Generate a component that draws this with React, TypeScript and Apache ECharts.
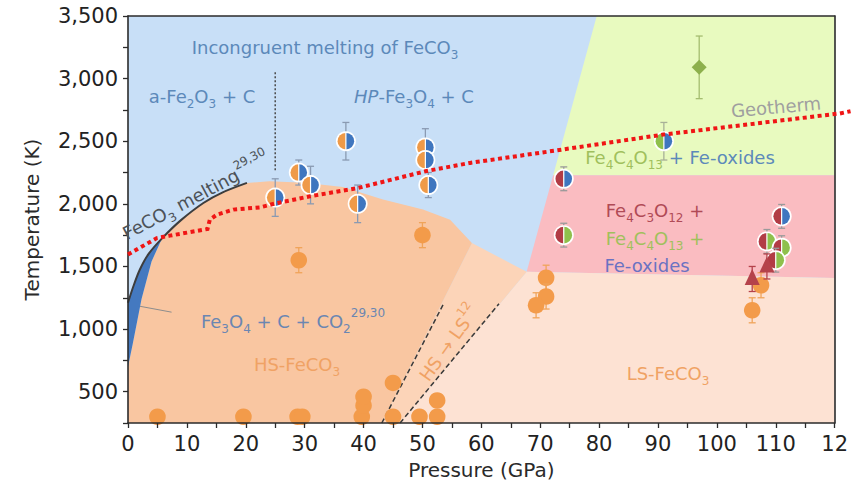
import React, { useEffect, useRef } from 'react';
import * as echarts from 'echarts';

const F = 'DejaVu Sans';

// ---- phase regions (P in GPa, T in K)
const blueRegion = [[0, 250], [120, 250], [120, 3500], [0, 3500]];
const greenRegion = [[79.6, 3500], [120, 3500], [120, 2228], [72.2, 2228]];
const pinkRegion = [[72.2, 2228], [120, 2228], [120, 1408], [67.7, 1458]];
const lsRegion = [[46.2, 250], [120, 250], [120, 1408], [67.7, 1458]];
const transitionRegion = [[43.1, 250], [46.2, 250], [67.7, 1458], [58.4, 1687]];
const meltingCurve = [[0, 1210], [0.9, 1340], [2, 1474], [3.5, 1600], [5.9, 1730], [9, 1870], [12.8, 2007], [16, 2090], [20.2, 2167]];
const sliverInner = [[5.5, 1695], [4.0, 1540], [2.3, 1240], [0.8, 880], [0, 700]];
const hsDome = [[24, 2180], [30, 2168], [36.5, 2135], [43.3, 2034], [50.1, 1954], [54.7, 1874], [58.4, 1687], [43.1, 250], [0, 250]];

// ---- lines
const geotherm = [[0, 1595], [4.9, 1727], [7.1, 1746], [13.5, 1799], [13.9, 1874], [15.1, 1914], [17.9, 1954], [22.4, 1972], [25.2, 2005], [30.9, 2060], [39.1, 2127], [50.5, 2260], [58.1, 2327], [69.9, 2407], [90.9, 2553], [120.9, 2722], [122.7, 2740]];
const spinLeft = [[43.1, 250], [53.5, 1194]];
const spinRight = [[46.2, 250], [63, 1202]];
const dividerLine = [[25, 3050], [25, 2260]];
const pointerLine = [[2.04, 1182], [7.4, 1135]];

// ---- measurements [P, T, error]
const orangeBlue = [[25, 2050, 150], [29, 2250, 100], [31, 2150, 150], [37, 2500, 150], [39, 2000, 150], [50.5, 2450, 150], [50.5, 2350, 0], [51, 2150, 100]];
const greenBlue = [[91, 2500, 150]];
const redBlue = [[74, 2200, 95], [111, 1900, 95]];
const redGreen = [[74, 1750, 95], [108.5, 1700, 95], [111, 1650, 95], [110, 1550, 95]];
const triangles = [[106, 1400, 100], [108.5, 1500, 100]];
const diamonds = [[97, 3090, 250]];
const orangeDots = [[29, 1550, 100], [50, 1750, 100], [71, 1410, 100], [71, 1260, 100], [69.3, 1190, 100], [107.5, 1350, 100], [106, 1150, 100],
  [5, 300, 0], [19.6, 300, 0], [28.8, 300, 0], [29.6, 300, 0], [39.7, 300, 0], [40, 390, 0], [40, 460, 0], [45, 570, 0], [45, 300, 0], [49.5, 300, 0], [52.5, 300, 0], [52.5, 430, 0]];

const C = {
  orange: '#ef9a48', blue: '#3f76bf', red: '#b23c45', green: '#8fc04c',
};

function polygonSeries(points: number[][], color: string, z: number) {
  return {
    type: 'custom', coordinateSystem: 'cartesian2d', silent: true, z,
    data: [[0, 3500]],
    renderItem: (_p: any, api: any) => ({
      type: 'polygon',
      shape: { points: points.map((p) => api.coord(p)) },
      style: { fill: color },
    }),
  };
}

function polylineSeries(points: number[][], color: string, width: number, dash: number[], z: number) {
  return {
    type: 'custom', coordinateSystem: 'cartesian2d', silent: true, z, clip: false,
    data: [[0, 3500]],
    renderItem: (_p: any, api: any) => ({
      type: 'polyline',
      shape: { points: points.map((p) => api.coord(p)) },
      style: { stroke: color, lineWidth: width, lineDash: dash, fill: null },
    }),
  };
}

function errorBar(api: any, c: number[], P: number, T: number, e: number, color: string) {
  if (!e) return [];
  const top = api.coord([P, T + e]);
  const bot = api.coord([P, T - e]);
  const s = { stroke: color, lineWidth: 1.3 };
  return [
    { type: 'line', shape: { x1: c[0], y1: top[1], x2: c[0], y2: bot[1] }, style: s },
    { type: 'line', shape: { x1: c[0] - 3.5, y1: top[1], x2: c[0] + 3.5, y2: top[1] }, style: s },
    { type: 'line', shape: { x1: c[0] - 3.5, y1: bot[1], x2: c[0] + 3.5, y2: bot[1] }, style: s },
  ];
}

function markerSeries(data: number[][], kind: string, a: string, b: string, barColor: string, z: number) {
  return {
    type: 'custom', coordinateSystem: 'cartesian2d', silent: true, z,
    data,
    renderItem: (_p: any, api: any) => {
      const P = api.value(0), T = api.value(1), e = api.value(2);
      const c = api.coord([P, T]);
      const ch: any[] = errorBar(api, c, P, T, e, barColor);
      if (kind === 'half') {
        ch.push({ type: 'circle', shape: { cx: c[0], cy: c[1], r: 10 }, style: { fill: '#ffffff' } });
        ch.push({ type: 'sector', shape: { cx: c[0], cy: c[1], r0: 0, r: 8.3, startAngle: Math.PI / 2, endAngle: Math.PI * 1.5, clockwise: true }, style: { fill: a } });
        ch.push({ type: 'sector', shape: { cx: c[0], cy: c[1], r0: 0, r: 8.3, startAngle: -Math.PI / 2, endAngle: Math.PI / 2, clockwise: true }, style: { fill: b } });
        ch.push({ type: 'line', shape: { x1: c[0], y1: c[1] - 9, x2: c[0], y2: c[1] + 9 }, style: { stroke: '#ffffff', lineWidth: 1.2 } });
      } else if (kind === 'dot') {
        ch.push({ type: 'circle', shape: { cx: c[0], cy: c[1], r: 8.3 }, style: { fill: a } });
      } else if (kind === 'tri') {
        ch.push({ type: 'polygon', shape: { points: [[c[0], c[1] - 10], [c[0] - 7.5, c[1] + 6], [c[0] + 7.5, c[1] + 6]] }, style: { fill: a } });
      } else if (kind === 'dia') {
        ch.push({ type: 'polygon', shape: { points: [[c[0], c[1] - 7.5], [c[0] + 7.5, c[1]], [c[0], c[1] + 7.5], [c[0] - 7.5, c[1]]] }, style: { fill: a } });
      }
      return { type: 'group', children: ch };
    },
  };
}

function lineSeries(data: number[][], color: string, width: number, type: any, z: number, extra: any = {}) {
  return {
    type: 'line', data, showSymbol: false, silent: true, z,
    lineStyle: { color, width, type }, ...extra,
  };
}

function richFor(prefix: string, color: string, size: number) {
  const r: any = {};
  r[prefix] = { fill: color, color, fontFamily: F, fontSize: size, lineHeight: 28 };
  r[prefix + 'i'] = { fill: color, color, fontFamily: F, fontSize: size, fontStyle: 'italic', lineHeight: 28 };
  r[prefix + 's'] = { fill: color, color, fontFamily: F, fontSize: Math.round(size * 0.66), verticalAlign: 'bottom', lineHeight: 12 };
  r[prefix + 'u'] = { fill: color, color, fontFamily: F, fontSize: Math.round(size * 0.66), verticalAlign: 'top', lineHeight: 11 };
  return r;
}

const BLUE_T = '#5c89ba';
const GREEN_T = '#a0c05c';
const RED_T = '#b04a56';
const PURP_T = '#6a72c2';
const ORANGE_T = '#f0a264';
const GRAY_T = '#4d5258';

const rich = {
  ...richFor('b', BLUE_T, 18),
  ...richFor('g', GREEN_T, 18),
  ...richFor('r', RED_T, 18),
  ...richFor('p', PURP_T, 18),
  ...richFor('o', ORANGE_T, 18),
  ...richFor('d', GRAY_T, 18),
  ...richFor('k', '#9f9f9f', 18),
  ...richFor('f', '#6b86b2', 18),
};

function label(text: string, x: number, y: number, rotation = 0) {
  return {
    type: 'text', x, y, rotation, z: 50, silent: true,
    style: { text, rich, align: 'center', verticalAlign: 'middle', fontFamily: F, fontSize: 18, lineHeight: 28 },
  };
}

export default function App() {
  const ref = useRef<HTMLDivElement>(null);
  useEffect(() => {
    if (!ref.current) return;
    const chart = echarts.init(ref.current, undefined, { renderer: 'svg' });
    const axisLine = { show: true, onZero: false, lineStyle: { color: '#2b2b2b', width: 1.6 } };
    const hsRegion = [[0, 700], ...sliverInner.slice().reverse().slice(1), ...meltingCurve.slice(4), ...hsDome];
    const sliverRegion = [...meltingCurve.slice(0, 5), ...sliverInner];
    const option: any = {
      animation: false,
      grid: { left: 128, right: 16, top: 16, bottom: 70 },
      xAxis: [
        {
          type: 'value', min: 0, max: 120, interval: 5, position: 'bottom', z: 10,
          name: 'Pressure (GPa)', nameLocation: 'middle', nameGap: 37,
          nameTextStyle: { fontFamily: F, fontSize: 20, color: '#2a2a2a' },
          axisLine, axisTick: { show: true, length: 5, lineStyle: { color: '#2b2b2b', width: 1.3 } },
          axisLabel: { fontFamily: F, fontSize: 21, color: '#222', margin: 10, formatter: (v: number) => (v % 10 === 0 ? (v === 120 ? '12' : String(v)) : '') },
          splitLine: { show: false },
        },
        { type: 'value', min: 0, max: 120, position: 'top', z: 10, axisLine, axisTick: { show: false }, axisLabel: { show: false }, splitLine: { show: false } },
      ],
      yAxis: [
        {
          type: 'value', min: 250, max: 3500, interval: 250, position: 'left', z: 10,
          name: 'Temperature (K)', nameLocation: 'middle', nameGap: 86,
          nameTextStyle: { fontFamily: F, fontSize: 20, color: '#2a2a2a' },
          axisLine, axisTick: { show: true, length: 5, lineStyle: { color: '#2b2b2b', width: 1.3 } },
          axisLabel: { fontFamily: F, fontSize: 21, color: '#222', margin: 10, formatter: (v: number) => (v % 500 === 0 ? v.toLocaleString('en-US') : '') },
          splitLine: { show: false },
        },
        { type: 'value', min: 250, max: 3500, position: 'right', z: 10, axisLine, axisTick: { show: false }, axisLabel: { show: false }, splitLine: { show: false } },
      ],
      series: [
        polygonSeries(blueRegion, '#c8dff7', 1),
        polygonSeries(greenRegion, '#e8fabf', 1),
        polygonSeries(pinkRegion, '#fabcc1', 1),
        polygonSeries(lsRegion, '#fde2d3', 1),
        polygonSeries(transitionRegion, '#fcd4b8', 1),
        polygonSeries(hsRegion, '#f9c6a1', 1),
        polygonSeries(sliverRegion, '#4479c0', 1),
        lineSeries(meltingCurve, '#3d3d3d', 2, 'solid', 3, { smooth: 0.3 }),
        lineSeries(spinLeft, '#3a3a3a', 1.5, [5, 3], 3),
        lineSeries(spinRight, '#3a3a3a', 1.5, [5, 3], 3),
        lineSeries(dividerLine, '#4a4a4a', 1.5, [2, 2], 3),
        lineSeries(pointerLine, '#8d8d8d', 1, 'solid', 3),
        markerSeries(orangeDots, 'dot', '#f39b4a', '', '#f0a45a', 4),
        markerSeries(orangeBlue, 'half', C.orange, C.blue, '#8a9ab2', 4),
        markerSeries(greenBlue, 'half', C.green, C.blue, '#a8b098', 4),
        markerSeries(redBlue, 'half', C.red, C.blue, '#9a9a9a', 4),
        markerSeries(redGreen, 'half', C.red, C.green, '#9a9a9a', 4),
        markerSeries(triangles, 'tri', '#b5424b', '', '#b5424b', 4),
        markerSeries(diamonds, 'dia', '#8db04c', '', '#a5bd70', 4),
        polylineSeries(geotherm, '#f01515', 4, [4, 3.5], 20),
      ],
      graphic: [
        label('{b|Incongruent melting of FeCO}{bs|3}', 325, 47),
        label('{b|a-Fe}{bs|2}{b|O}{bs|3}{b| + C}', 202, 96),
        label('{bi|HP}{b|-Fe}{bs|3}{b|O}{bs|4}{b| + C}', 414, 96),
        label('{d|FeCO}{ds|3}{d| melting}{du|29,30}', 196, 196, 0.49),
        label('{k|Geotherm}', 776, 107, 0.09),
        label('{g|Fe}{gs|4}{g|C}{gs|4}{g|O}{gs|13}{b| + Fe-oxides}', 680, 157),
        label('{r|Fe}{rs|4}{r|C}{rs|3}{r|O}{rs|12}{r| +}', 655, 210),
        label('{g|Fe}{gs|4}{g|C}{gs|4}{g|O}{gs|13}{g| +}', 655, 238),
        label('{p|Fe-oxides}', 647, 265),
        label('{f|Fe}{fs|3}{f|O}{fs|4}{f| + C + CO}{fs|2}{fu|29,30}', 293, 321),
        label('{o|HS-FeCO}{os|3}', 297, 364),
        label('{o|HS → LS}{ou|12}', 449, 343, 0.95),
        label('{o|LS-FeCO}{os|3}', 668, 373),
      ],
    };
    chart.setOption(option);
    return () => chart.dispose();
  }, []);
  return (
    <div style={{ position: 'absolute', left: 0, top: 0, width: 851, height: 493, background: '#fff' }}>
      <div ref={ref} style={{ width: 851, height: 493 }} />
    </div>
  );
}
